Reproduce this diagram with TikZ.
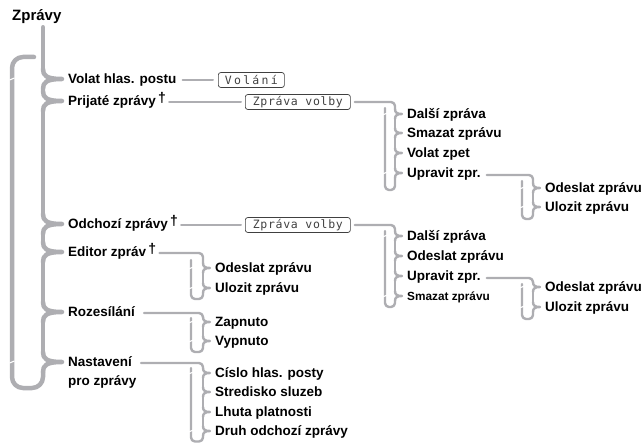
\documentclass[tikz,border=0pt]{standalone}
\usepackage{fontspec}
\setmainfont{Liberation Sans}
\newfontfamily\lcdfont[LetterSpace=6]{DejaVu Sans Mono}
\usetikzlibrary{calc}
\definecolor{lgray}{RGB}{174,174,178}
\newcommand\cusp[5]{%
  \draw[#1] ($(#2|-#3.west)+(0,-#4)$) .. controls ($(#2|-#3.west)+(0,-0.35*#4)$) and ($(#2|-#3.west)+(0.3*#4,0)$) .. ($(#3.west)+(-#5,0)$)
    .. controls ($(#2|-#3.west)+(0.3*#4,0)$) and ($(#2|-#3.west)+(0,0.35*#4)$) .. ($(#2|-#3.west)+(0,#4)$);}
\newcommand\seg[5]{\draw[#1] ($(#2|-#3.west)+(0,#5)$) -- ($(#2|-#4.west)+(0,-#5)$);}
\newcommand\notch[2]{\draw[white,line width=1.1] ($(#1|-#2.west)+(-2.5,1)$) -- ($(#1|-#2.west)+(2.5,-1)$);}
\newcommand\mydag{\,\raisebox{3pt}{\fontsize{14}{14}\selectfont †}}
\begin{document}
\begin{tikzpicture}[x=1pt,y=-1pt,
  itm/.style={anchor=west,inner sep=0pt,text height=9.7,text depth=0pt,font=\fontsize{13.5}{15}\selectfont\bfseries},
  smallitm/.style={anchor=west,inner sep=0pt,text height=8.4,text depth=0pt,font=\fontsize{11.8}{13}\selectfont\bfseries},
  ttl/.style={anchor=west,inner sep=0pt,font=\fontsize{15}{17}\selectfont\bfseries},
  lcd/.style={anchor=west,draw=black!75,line width=0.7,rounded corners=2.5,minimum height=15,inner xsep=2,inner ysep=0,
    font=\lcdfont\fontsize{11.5}{12}\selectfont,text=black!75},
  mainln/.style={draw=lgray,line width=4.5,line cap=round,line join=round},
  subln/.style={draw=lgray,line width=2.4,line cap=round,line join=round},
  feedln/.style={draw=lgray,line width=2,line cap=round}]
\useasboundingbox (0,0) rectangle (642,446);
% title and main items
\node[ttl] (t) at (12,17) {Zprávy};
\node[itm] (m1) at (68,79) {Volat hlas. postu};
\node[itm] (m2) at (68,101) {Prijaté zprávy\mydag};
\node[itm] (m3) at (68,224) {Odchozí zprávy\mydag};
\node[itm] (m4) at (68,252) {Editor zpráv\mydag};
\node[itm] (m5) at (68,312) {Rozesílání};
\node[itm] (m6) at (68,362) {Nastavení};
\node[itm] (m6b) at (68,381) {pro zprávy};
% boxes
\node[lcd,minimum width=66] (b1) at (218,80) {\addfontfeature{LetterSpace=20}Volání};
\node[lcd,minimum width=105] (b2) at (245,102) {Zpráva volby};
\node[lcd,minimum width=105] (b3) at (245,225) {Zpráva volby};
% S1
\node[itm] (d1) at (407,114) {Další zpráva};
\node[itm] (d2) at (407,133) {Smazat zprávu};
\node[itm] (d3) at (407,153) {Volat zpet};
\node[itm] (d4) at (407,173) {Upravit zpr.};
% S2
\node[itm] (e1) at (545,188) {Odeslat zprávu};
\node[itm] (e2) at (545,207) {Ulozit zprávu};
% S3
\node[itm] (f1) at (407,236) {Další zpráva};
\node[itm] (f2) at (407,256) {Odeslat zprávu};
\node[itm] (f3) at (407,276) {Upravit zpr.};
\node[smallitm] (f4) at (407,296) {Smazat zprávu};
% S4
\node[itm] (g1) at (545,287) {Odeslat zprávu};
\node[itm] (g2) at (545,307) {Ulozit zprávu};
% S5
\node[itm] (h1) at (215,268) {Odeslat zprávu};
\node[itm] (h2) at (215,288) {Ulozit zprávu};
% S6
\node[itm] (k1) at (215,322) {Zapnuto};
\node[itm] (k2) at (215,341) {Vypnuto};
% S7
\node[itm] (n1) at (215,373) {Císlo hlas. posty};
\node[itm] (n2) at (215,392) {Stredisko sluzeb};
\node[itm] (n3) at (215,412) {Lhuta platnosti};
\node[itm] (n4) at (215,431) {Druh odchozí zprávy};
% stem coordinates
\coordinate (ms) at (43,0);  \coordinate (ml) at (12,0);
\coordinate (sa) at (395,0); \coordinate (ra) at (385,0);
\coordinate (sb) at (533,0); \coordinate (rb) at (522,0);
\coordinate (sc) at (203,0); \coordinate (rc) at (191,0);
% main bracket
\draw[mainln] ($(ms|-t.south)+(0,3)$) -- ($(ms|-m1.west)+(0,-10)$);
\cusp{mainln}{ms}{m1}{10}{6}
\seg{mainln}{ms}{m1}{m2}{10}
\cusp{mainln}{ms}{m2}{10}{6}
\seg{mainln}{ms}{m2}{m3}{10}
\cusp{mainln}{ms}{m3}{10}{6}
\seg{mainln}{ms}{m3}{m4}{10}
\cusp{mainln}{ms}{m4}{10}{6}
\seg{mainln}{ms}{m4}{m5}{10}
\cusp{mainln}{ms}{m5}{10}{6}
\seg{mainln}{ms}{m5}{m6}{10}
\cusp{mainln}{ms}{m6}{10}{6}
\coordinate (lbr) at (43,388); \coordinate (lbl) at (12,388);
\coordinate (ltl) at (12,57); \coordinate (ltr) at (34,57);
\draw[mainln,rounded corners=11] ($(ms|-m6.west)+(0,10)$) -- (lbr) -- (lbl) -- (ltl) -- (ltr);
\notch{ml}{m1}\notch{ml}{m6}
% connectors to boxes
\draw[feedln] ($(m1.east)+(6,1)$) -- ($(b1.west)+(-5,0)$);
\draw[feedln] ($(m2.east)+(3,1)$) -- ($(b2.west)+(-4,0)$);
\draw[feedln] ($(m3.east)+(3,1)$) -- ($(b3.west)+(-4,0)$);
% S1
\draw[subln,rounded corners=4] ($(b2.east)+(4,0)$) -| ($(sa|-d1.west)+(0,-5)$);
\cusp{subln}{sa}{d1}{5}{5}\seg{subln}{sa}{d1}{d2}{5}
\cusp{subln}{sa}{d2}{5}{5}\seg{subln}{sa}{d2}{d3}{5}
\cusp{subln}{sa}{d3}{5}{5}\seg{subln}{sa}{d3}{d4}{5}
\cusp{subln}{sa}{d4}{5}{5}
\draw[subln,rounded corners=4] ($(sa|-d4.west)+(0,5)$) -- ($(sa|-d4.west)+(0,17)$) -| ($(ra|-b2.east)+(0,6)$);
\notch{ra}{d1}\notch{ra}{d4}
% S2
\draw[subln,rounded corners=4] ($(d4.east)+(6,2)$) -| ($(sb|-e1.west)+(0,-5)$);
\cusp{subln}{sb}{e1}{5}{5}\seg{subln}{sb}{e1}{e2}{5}
\cusp{subln}{sb}{e2}{5}{5}
\draw[subln,rounded corners=4] ($(sb|-e2.west)+(0,5)$) -- ($(sb|-e2.west)+(0,12)$) -| ($(rb|-d4.east)+(0,8)$);
\notch{rb}{e1}\notch{rb}{e2}
% S3
\draw[subln,rounded corners=4] ($(b3.east)+(4,0)$) -| ($(sa|-f1.west)+(0,-5)$);
\cusp{subln}{sa}{f1}{5}{5}\seg{subln}{sa}{f1}{f2}{5}
\cusp{subln}{sa}{f2}{5}{5}\seg{subln}{sa}{f2}{f3}{5}
\cusp{subln}{sa}{f3}{5}{5}\seg{subln}{sa}{f3}{f4}{5}
\cusp{subln}{sa}{f4}{5}{5}
\draw[subln,rounded corners=4] ($(sa|-f4.west)+(0,5)$) -- ($(sa|-f4.west)+(0,11)$) -| ($(ra|-b3.east)+(0,6)$);
\notch{ra}{f1}\notch{ra}{f4}
% S4
\draw[subln,rounded corners=4] ($(f3.east)+(6,2)$) -| ($(sb|-g1.west)+(0,-5)$);
\cusp{subln}{sb}{g1}{5}{5}\seg{subln}{sb}{g1}{g2}{5}
\cusp{subln}{sb}{g2}{5}{5}
\draw[subln,rounded corners=4] ($(sb|-g2.west)+(0,5)$) -- ($(sb|-g2.west)+(0,12)$) -| ($(rb|-f3.east)+(0,8)$);
\notch{rb}{g1}\notch{rb}{g2}
% S5
\draw[subln,rounded corners=4] ($(m4.east)+(3,1)$) -| ($(sc|-h1.west)+(0,-5)$);
\cusp{subln}{sc}{h1}{5}{5}\seg{subln}{sc}{h1}{h2}{5}
\cusp{subln}{sc}{h2}{5}{5}
\draw[subln,rounded corners=4] ($(sc|-h2.west)+(0,5)$) -- ($(sc|-h2.west)+(0,11)$) -| ($(rc|-m4.east)+(0,8)$);
\notch{rc}{h1}\notch{rc}{h2}
% S6
\draw[subln,rounded corners=4] ($(m5.east)+(9,1)$) -| ($(sc|-k1.west)+(0,-5)$);
\cusp{subln}{sc}{k1}{5}{5}\seg{subln}{sc}{k1}{k2}{5}
\cusp{subln}{sc}{k2}{5}{5}
\draw[subln,rounded corners=4] ($(sc|-k2.west)+(0,5)$) -- ($(sc|-k2.west)+(0,11)$) -| ($(rc|-m5.east)+(0,6)$);
\notch{rc}{k1}\notch{rc}{k2}
% S7
\draw[subln,rounded corners=4] ($(m6.east)+(9,1)$) -| ($(sc|-n1.west)+(0,-5)$);
\cusp{subln}{sc}{n1}{5}{5}\seg{subln}{sc}{n1}{n2}{5}
\cusp{subln}{sc}{n2}{5}{5}\seg{subln}{sc}{n2}{n3}{5}
\cusp{subln}{sc}{n3}{5}{5}\seg{subln}{sc}{n3}{n4}{5}
\cusp{subln}{sc}{n4}{5}{5}
\draw[subln,rounded corners=4] ($(sc|-n4.west)+(0,5)$) -- ($(sc|-n4.west)+(0,10.5)$) -| ($(rc|-m6.east)+(0,6)$);
\notch{rc}{n1}\notch{rc}{n4}
\end{tikzpicture}
\end{document}
